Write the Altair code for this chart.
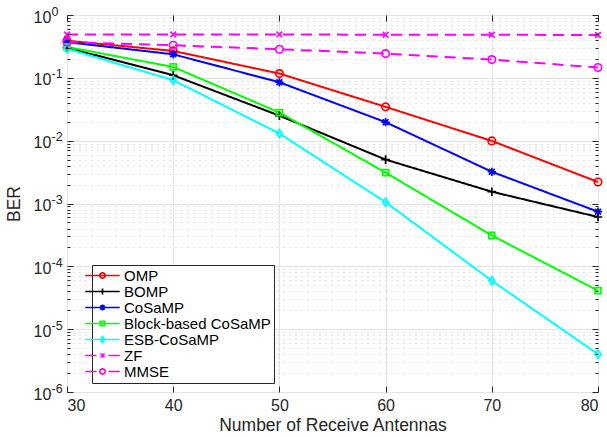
import altair as alt
import pandas as pd

# ---------------- data ----------------
antennas = [30, 40, 50, 60, 70, 80]
series_names = ["OMP", "BOMP", "CoSaMP", "Block-based CoSaMP", "ESB-CoSaMP", "ZF", "MMSE"]
ber_omp = [0.39, 0.268, 0.117, 0.0345, 0.0099, 0.0022]
ber_bomp = [0.30, 0.11, 0.025, 0.005, 0.00154, 0.00061]
ber_cosamp = [0.37, 0.237, 0.085, 0.0197, 0.0032, 0.00074]
ber_block = [0.31, 0.149, 0.028, 0.0031, 0.00031, 0.000041]
ber_esb = [0.29, 0.092, 0.013, 0.00105, 0.000059, 0.000004]
ber_zf = [0.49, 0.49, 0.49, 0.485, 0.485, 0.48]
ber_mmse = [0.37, 0.33, 0.285, 0.243, 0.195, 0.146]
series_values = [ber_omp, ber_bomp, ber_cosamp, ber_block, ber_esb, ber_zf, ber_mmse]

y_major = [1e-6, 1e-5, 1e-4, 1e-3, 1e-2, 1e-1, 1.0]
y_minor = [m * 10.0 ** k for k in range(-6, 0) for m in range(2, 10)]

# ---------------- styles ----------------
colors = ["#ff0000", "#000000", "#0000ff", "#00ff00", "#00ffff", "#ff00ff", "#ff00ff"]
dashes = [[1, 0]] * 5 + [[11, 7]] * 2


def circle(s):
    return f"M{s},0A{s},{s},0,1,1,{-s},0A{s},{s},0,1,1,{s},0Z"


def plus(s):
    a = 1.15 * s
    return f"M{-a},0L{a},0M0,{-a}L0,{a}"


def star(s):
    a, b = 1.1 * s, 0.78 * s
    return f"M{-a},0L{a},0M0,{-a}L0,{a}M{-b},{-b}L{b},{b}M{-b},{b}L{b},{-b}"


def square(s):
    a = 0.8 * s
    return f"M{-a},{-a}L{a},{-a}L{a},{a}L{-a},{a}Z"


def diamond(s):
    a, b = 0.8 * s, 1.1 * s
    return f"M0,{-b}L{a},0L0,{b}L{-a},0Z"


def xmark(s):
    a = 0.75 * s
    return f"M{-a},{-a}L{a},{a}M{-a},{a}L{a},{-a}"


marker_fns = [circle, plus, star, square, diamond, xmark, circle]
markers = [f(1.0) for f in marker_fns]
solid_seg = "M-4.6,0L4.6,0"
dash_seg = "M-4.6,0L-1.6,0M1.6,0L4.6,0"
legend_shapes = [(dash_seg if d != [1, 0] else solid_seg) + f(0.72) for d, f in zip(dashes, marker_fns)]

rows = []
for name, vals in zip(series_names, series_values):
    for a, v in zip(antennas, vals):
        rows.append({"series": name, "antennas": a, "ber": v})
df = pd.DataFrame(rows)

W, H = 531, 377
FONT = "Liberation Sans"
AX = "#262626"

xscale = alt.Scale(domain=[30, 80], nice=False, zero=False)
yscale = alt.Scale(type="log", domain=[1e-6, 1], nice=False)

common_tick = dict(labels=False, domain=False, grid=False, ticks=True, tickColor=AX,
                   tickWidth=1, title=None, zindex=1)

ax_x_main = alt.Axis(orient="bottom", values=antennas, format="d", title="Number of Receive Antennas",
                     grid=True, gridColor="#e3e3e3", ticks=False, domain=False,
                     labelFont=FONT, labelFontSize=16, labelColor=AX, labelPadding=5,
                     titleFont=FONT, titleFontSize=17.5, titleFontWeight="normal", titleColor=AX,
                     titlePadding=3)
# base "10" of each power-of-ten label
ax_y_main = alt.Axis(orient="left", values=y_major, labelExpr="'10'", title="BER",
                     grid=True, gridColor="#e3e3e3", ticks=False, domain=False,
                     labelFont=FONT, labelFontSize=16, labelColor=AX, labelPadding=34,
                     labelAlign="left", labelOffset=2,
                     titleFont=FONT, titleFontSize=17.5, titleFontWeight="normal", titleColor=AX,
                     titlePadding=10)
# raised exponent of each power-of-ten label
ax_y_exp = alt.Axis(orient="left", values=y_major,
                    labelExpr="'' + round(log(datum.value) / LN10)",
                    grid=False, ticks=False, domain=False, title=None,
                    labelFont=FONT, labelFontSize=12.5, labelColor=AX, labelPadding=16,
                    labelAlign="left", labelOffset=-4)
ax_y_minor_grid = alt.Axis(orient="left", values=y_minor, labels=False, ticks=False, domain=False,
                           grid=True, gridDash=[1, 5], gridColor="#c4c4c4", title=None)
ax_x_tick_bottom = alt.Axis(orient="top", offset=-H, values=antennas, tickSize=6, **common_tick)
ax_x_tick_top = alt.Axis(orient="bottom", offset=-H, values=antennas, tickSize=6, **common_tick)
ax_y_tl_major = alt.Axis(orient="right", offset=-W, values=y_major, tickSize=6, **common_tick)
ax_y_tl_minor = alt.Axis(orient="right", offset=-W, values=y_minor, tickSize=3, **common_tick)
ax_y_tr_major = alt.Axis(orient="left", offset=-W, values=y_major, tickSize=6, **common_tick)
ax_y_tr_minor = alt.Axis(orient="left", offset=-W, values=y_minor, tickSize=3, **common_tick)

color_scale = alt.Scale(domain=series_names, range=colors)

legend_props = dict(title=None, orient="none", legendX=25, legendY=250,
                    direction="vertical", fillColor="white", strokeColor=AX,
                    padding=3, rowPadding=-1, labelFont=FONT, labelFontSize=15,
                    labelColor="#000000", labelOffset=14, symbolSize=56,
                    symbolStrokeWidth=1.7, symbolFillColor="transparent",
                    labelLimit=300)

base = alt.Chart(df)

lines = base.mark_line(strokeWidth=2).encode(
    x=alt.X("antennas:Q", scale=xscale, axis=ax_x_main),
    y=alt.Y("ber:Q", scale=yscale, axis=ax_y_main),
    color=alt.Color("series:N", scale=color_scale, legend=None),
    strokeDash=alt.StrokeDash("series:N", scale=alt.Scale(domain=series_names, range=dashes), legend=None),
    detail="series:N",
)

points = base.mark_point(filled=False, size=56, strokeWidth=1.7, opacity=1).encode(
    x=alt.X("antennas:Q", scale=xscale, axis=ax_x_tick_bottom),
    y=alt.Y("ber:Q", scale=yscale, axis=ax_y_minor_grid),
    color=alt.Color("series:N", scale=color_scale, legend=None),
    shape=alt.Shape("series:N", scale=alt.Scale(domain=series_names, range=markers), legend=None),
)

legend_layer = base.transform_filter("false").mark_point(filled=False, size=56, strokeWidth=1.7, opacity=1).encode(
    x=alt.X("antennas:Q", scale=xscale, axis=ax_x_tick_top),
    y=alt.Y("ber:Q", scale=yscale, axis=ax_y_tl_major),
    color=alt.Color("series:N", scale=color_scale, legend=alt.Legend(**legend_props)),
    shape=alt.Shape("series:N", scale=alt.Scale(domain=series_names, range=legend_shapes),
                    legend=alt.Legend(**legend_props)),
)


def empty_axis_layer(yaxis):
    return base.transform_filter("false").mark_point(opacity=0).encode(
        x=alt.X("antennas:Q", scale=xscale, axis=None),
        y=alt.Y("ber:Q", scale=yscale, axis=yaxis),
    )


chart = alt.layer(
    lines, points, legend_layer,
    empty_axis_layer(ax_y_tl_minor),
    empty_axis_layer(ax_y_tr_major),
    empty_axis_layer(ax_y_tr_minor),
    empty_axis_layer(ax_y_exp),
).resolve_scale(
    color="independent", shape="independent", strokeDash="independent"
).resolve_axis(
    x="independent", y="independent"
).properties(
    width=W, height=H,
    autosize=alt.AutoSizeParams(type="none"),
    padding={"left": 67, "top": 15, "right": 9, "bottom": 45},
    background="white",
).configure_view(
    stroke=AX, strokeWidth=1
)

chart.save("out.html", embed_options={"renderer": "svg", "actions": False})
